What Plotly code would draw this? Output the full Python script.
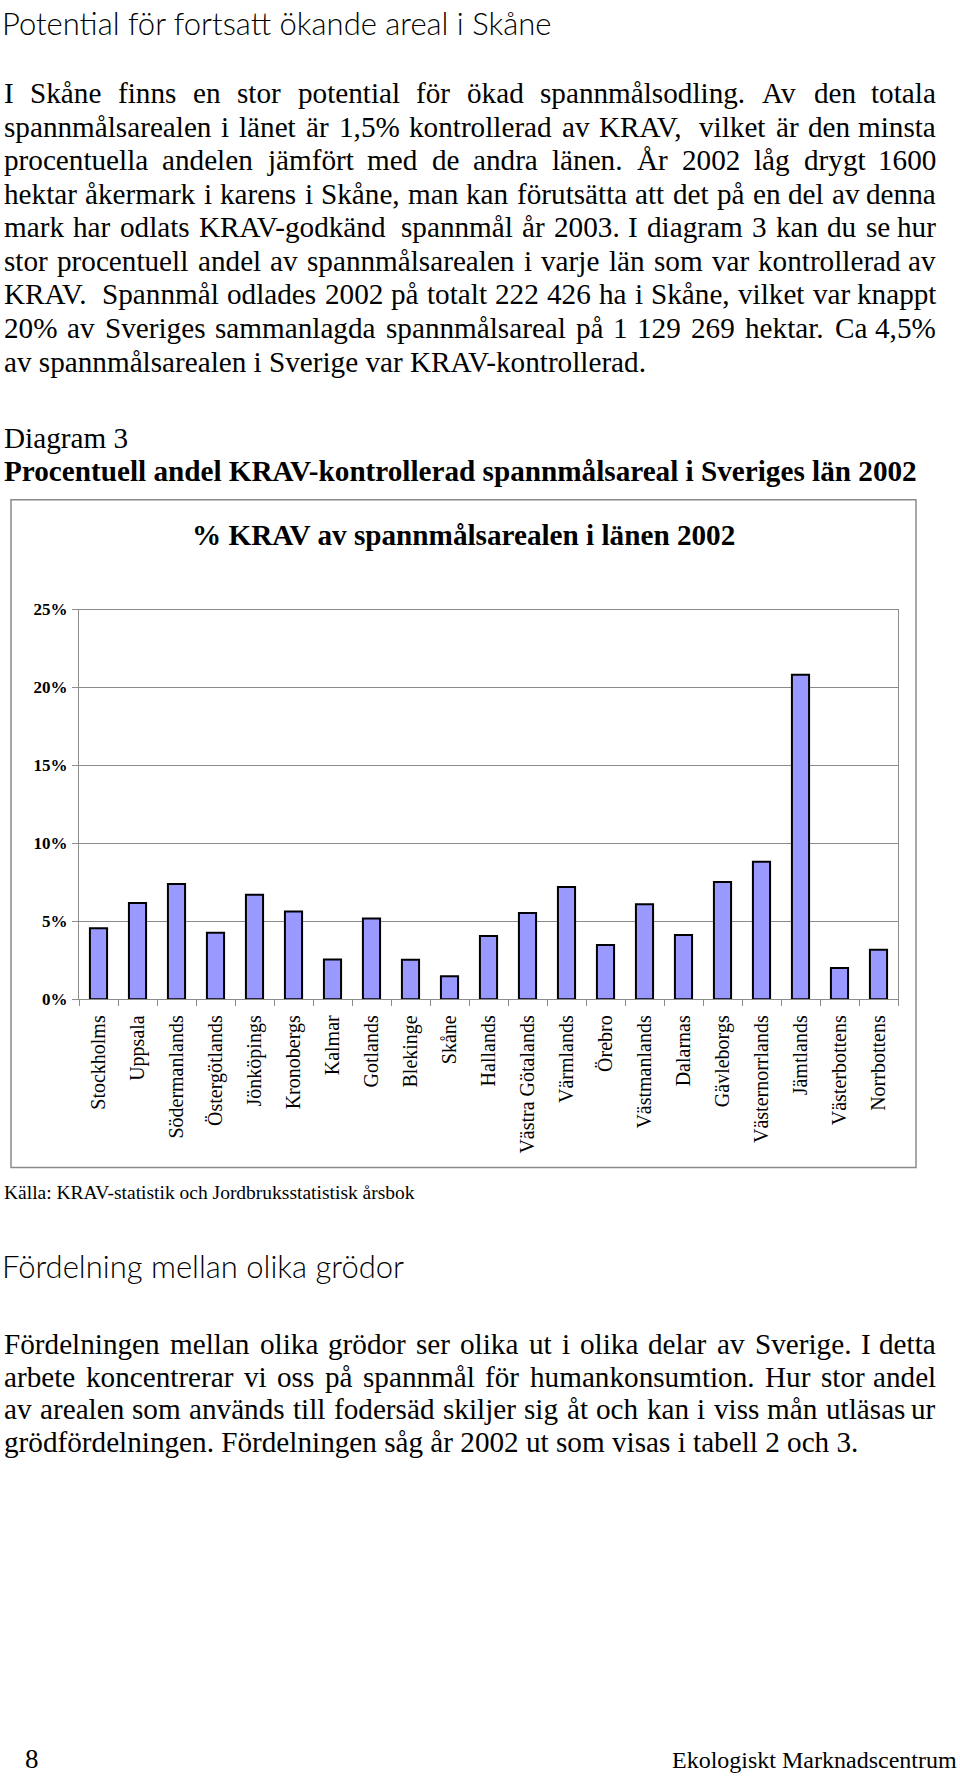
import plotly.graph_objects as go

# ---------------- data ----------------
lan = ["Stockholms", "Uppsala", "Södermanlands", "Östergötlands", "Jönköpings",
       "Kronobergs", "Kalmar", "Gotlands", "Blekinge", "Skåne", "Hallands",
       "Västra Götalands", "Värmlands", "Örebro", "Västmanlands", "Dalarnas",
       "Gävleborgs", "Västernorrlands", "Jämtlands", "Västerbottens", "Norrbottens"]
krav_andel = [4.55, 6.18, 7.40, 4.27, 6.70, 5.63, 2.56, 5.18, 2.54, 1.48, 4.06,
              5.54, 7.21, 3.49, 6.09, 4.12, 7.53, 8.82, 20.81, 2.01, 3.17]
y_ticks = [0, 5, 10, 15, 20, 25]

heading1 = "Potential för fortsatt ökande areal i Skåne"
para1 = [
    "I Skåne finns en stor potential för ökad spannmålsodling. Av den totala",
    "spannmålsarealen i länet är 1,5% kontrollerad av KRAV, vilket är den minsta",
    "procentuella andelen jämfört med de andra länen. År 2002 låg drygt 1600",
    "hektar åkermark i karens i Skåne, man kan förutsätta att det på en del av denna",
    "mark har odlats KRAV-godkänd spannmål år 2003. I diagram 3 kan du se hur",
    "stor procentuell andel av spannmålsarealen i varje län som var kontrollerad av",
    "KRAV. Spannmål odlades 2002 på totalt 222 426 ha i Skåne, vilket var knappt",
    "20% av Sveriges sammanlagda spannmålsareal på 1 129 269 hektar. Ca 4,5%",
    "av spannmålsarealen i Sverige var KRAV-kontrollerad.",
]
diagram_label = "Diagram 3"
diagram_caption = "Procentuell andel KRAV-kontrollerad spannmålsareal i Sveriges län 2002"
chart_title = "% KRAV av spannmålsarealen i länen 2002"
source = "Källa: KRAV-statistik och Jordbruksstatistisk årsbok"
heading2 = "Fördelning mellan olika grödor"
para2 = [
    "Fördelningen mellan olika grödor ser olika ut i olika delar av Sverige. I detta",
    "arbete koncentrerar vi oss på spannmål för humankonsumtion. Hur stor andel",
    "av arealen som används till fodersäd skiljer sig åt och kan i viss mån utläsas ur",
    "grödfördelningen. Fördelningen såg år 2002 ut som visas i tabell 2 och 3.",
]
page_no = "8"
footer = "Ekologiskt Marknadscentrum"

# ---------------- helpers ----------------
W, H = 960, 1776
SERIF = "Liberation Serif"
SANS = "Lato"
BODY = 29.2

TW = {' ': .25, 'a': .444, 'b': .5, 'c': .444, 'd': .5, 'e': .444, 'f': .333, 'g': .5,
      'h': .5, 'i': .278, 'j': .278, 'k': .5, 'l': .278, 'm': .778, 'n': .5, 'o': .5,
      'p': .5, 'q': .5, 'r': .333, 's': .389, 't': .278, 'u': .5, 'v': .5, 'w': .722,
      'x': .5, 'y': .5, 'z': .444, 'å': .444, 'ä': .444, 'ö': .5,
      'A': .722, 'B': .667, 'C': .667, 'D': .722, 'E': .611, 'F': .556, 'G': .722,
      'H': .722, 'I': .333, 'J': .389, 'K': .722, 'L': .611, 'M': .889, 'N': .722,
      'O': .722, 'P': .556, 'Q': .722, 'R': .667, 'S': .556, 'T': .611, 'U': .722,
      'V': .722, 'W': .944, 'X': .722, 'Y': .722, 'Z': .611, 'Å': .722, 'Ä': .722,
      'Ö': .722, '.': .25, ',': .25, '%': .833, '-': .333, ':': .278}


def tw(s, fs):
    return sum(TW.get(ch, .5) for ch in s) * fs


def px(x):
    return x / W


def py(y):
    return 1 - y / H


annotations = []


def text(s, x, baseline, fs, family=SERIF, anchor="left", weight=None, color="black",
         mid=0.3375):
    f = dict(family=family, size=fs, color=color)
    if weight is not None:
        f["weight"] = weight
    annotations.append(dict(text=s, x=px(x), y=py(baseline - mid * fs), xref="paper",
                            yref="paper", xanchor=anchor, yanchor="middle",
                            showarrow=False, font=f, borderpad=0))


def justified(lines, x0, x1, baseline0, step, fs):
    for k, line in enumerate(lines):
        b = baseline0 + k * step
        words = line.split(" ")
        if k == len(lines) - 1 or len(words) < 2:
            text(line, x0, b, fs)
            continue
        widths = [tw(w_, fs) for w_ in words]
        gap = (x1 - x0 - sum(widths)) / (len(words) - 1)
        x = x0
        for i, (w_, wd) in enumerate(zip(words, widths)):
            if i == len(words) - 1:
                text(w_, x1, b, fs, anchor="right")
            else:
                text(w_, x, b, fs)
            x += wd + gap


# ---------------- page text ----------------
annotations.append(dict(text=heading1, x=px(1), y=py(-6), xref="paper", yref="paper",
                        xanchor="left", yanchor="top", showarrow=False, borderpad=0,
                        font=dict(family=SANS, size=31, color="black", weight=300)))
justified(para1, 3, 937, 95, 33.9, BODY)
text(diagram_label, 3, 443.5, BODY)
text("<b>" + diagram_caption + "</b>", 3, 476.5, BODY)
text("<b>" + chart_title + "</b>", 463.5, 542, BODY, anchor="center")
text(source, 3, 1202.5, 19.5)
text(heading2, 1, 1282.5, 31, family=SANS, weight=300, mid=0.387)
justified(para2, 3, 937, 1359, 33.2, BODY)
text(page_no, 24, 1778, 27)
text(footer, 958, 1778, 24, anchor="right")

# ---------------- chart ----------------
fig = go.Figure()
fig.add_trace(go.Bar(x=lan, y=krav_andel,
                     marker=dict(color="#9999FF", line=dict(color="black", width=2)),
                     hoverinfo="x+y"))

shapes = [dict(type="rect", xref="paper", yref="paper",
               x0=px(11), x1=px(916), y0=py(1171), y1=py(496),
               line=dict(color="#8a8a8a", width=1.5), fillcolor="rgba(0,0,0,0)",
               layer="below")]

grid_col = "#8c8c8c"
fig.update_layout(
    width=W, height=H,
    margin=dict(l=0, r=0, t=0, b=0),
    paper_bgcolor="white", plot_bgcolor="white",
    showlegend=False,
    bargap=0.56,
    annotations=annotations,
    shapes=shapes,
    xaxis=dict(domain=[px(79), px(898)], type="category",
               tickangle=-90, tickfont=dict(family=SERIF, size=20, color="black"),
               ticks="outside", tickson="boundaries", ticklen=6, tickcolor=grid_col,
               ticklabelstandoff=7,
               showline=True, linecolor=grid_col, linewidth=1, mirror=True,
               showgrid=False, fixedrange=True),
    yaxis=dict(domain=[py(1001), py(607)], range=[0, 25], tickvals=y_ticks,
               ticktext=[f"{v}%" for v in y_ticks],
               tickfont=dict(family=SERIF, size=17, color="black", weight="bold"),
               ticks="outside", ticklen=6, tickcolor=grid_col, ticklabelstandoff=1,
               showline=True, linecolor=grid_col, linewidth=1, mirror=True,
               showgrid=True, gridcolor=grid_col, gridwidth=1,
               zeroline=False, fixedrange=True),
)

fig.write_html("out.html", config={"displayModeBar": False},
               post_script="document.body.style.margin='0';document.body.style.overflow='hidden';")
